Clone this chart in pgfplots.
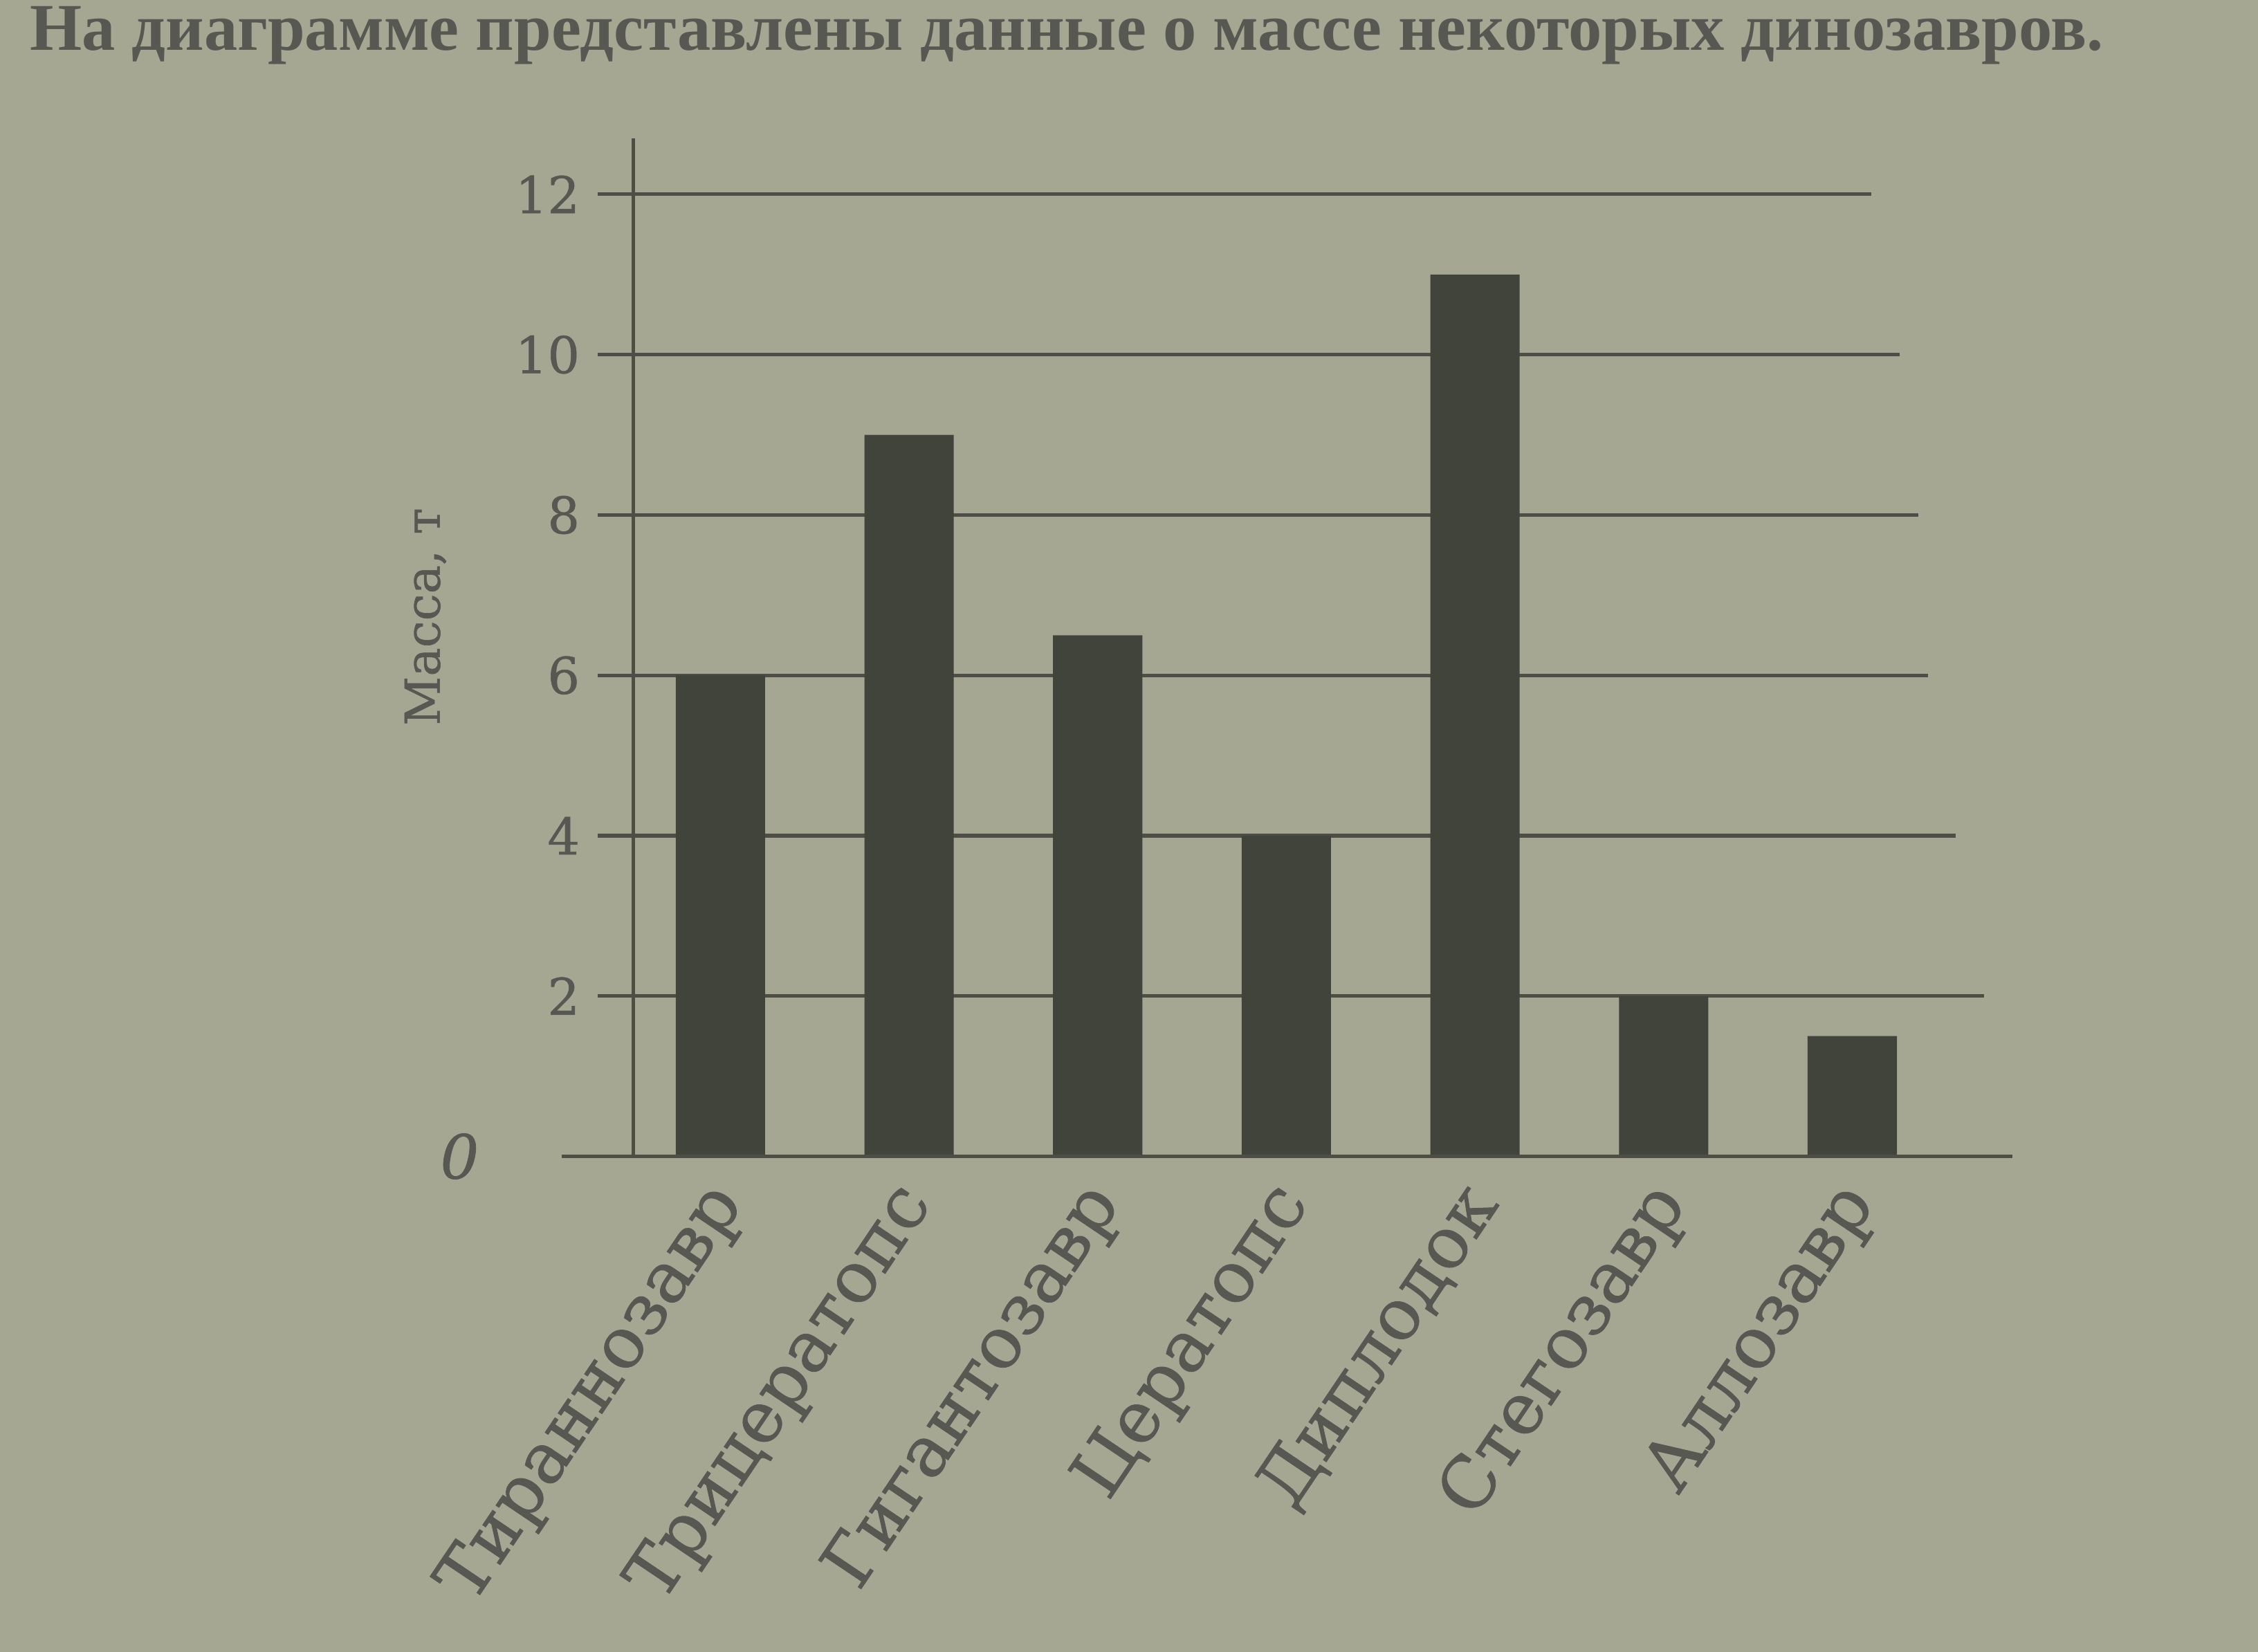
\documentclass[border=0pt]{standalone}
\usepackage{fontspec}
\setmainfont{DejaVu Serif}
\newfontfamily\titlefont{Liberation Serif}
\newfontfamily\labfont[FakeBold=0.8]{DejaVu Serif}
\usepackage{pgfplots}
\pgfplotsset{compat=1.18}
\definecolor{paper}{RGB}{166,167,147}
\definecolor{barc}{RGB}{64,68,59}
\definecolor{gridc}{RGB}{78,78,70}
\definecolor{txt}{RGB}{88,88,82}
\begin{document}
\begin{tikzpicture}[x=1mm,y=1mm]
\fill[paper] (0,0) rectangle (156.8,114.7);
\useasboundingbox (0,0) rectangle (156.8,114.7);
\node[anchor=base west, inner sep=0pt, font=\titlefont\bfseries\fontsize{13.2}{15}\selectfont, text=txt] at (2,111.2) {На диаграмме представлены данные о массе некоторых динозавров.};
\begin{axis}[
  at={(44mm,34.4mm)}, anchor=south west,
  scale only axis, width=95.1mm, height=70.7mm,
  xmin=-0.46, xmax=6.8, ymin=0, ymax=12.7,
  axis x line*=bottom, axis y line*=left,
  axis line style={gridc, line width=0.7pt},
  clip=false,
  ytick={2,4,6,8,10,12},
  tick align=outside,
  ytick style={gridc, line width=0.7pt},
  major tick length=2.5mm,
  extra y ticks={0},
  extra y tick style={ytick style={draw=none}, yticklabel style={xshift=-7mm, font=\labfont\itshape\fontsize{12}{14}\selectfont}},
  xtick=data,
  xtick style={draw=none},
  xticklabels={Тираннозавр,Трицератопс,Гигантозавр,Цератопс,Диплодок,Стегозавр,Аллозавр},
  xticklabel style={rotate=56, anchor=east, font=\labfont\fontsize{14}{16}\selectfont, text=txt, xshift=1.5mm, yshift=-0.5mm},
  yticklabel style={font=\labfont\fontsize{10}{12}\selectfont, text=txt},
  /pgf/number format/assume math mode=true,
  ylabel={Масса, т},
  ylabel style={at={(rel axis cs:-0.152,0.53)}, anchor=center, font=\labfont\fontsize{9.5}{11}\selectfont, text=txt},
]
\draw[gridc, line width=0.7pt] (axis cs:-0.46,12) -- (axis cs:6.1,12);
\draw[gridc, line width=0.7pt] (axis cs:-0.46,10) -- (axis cs:6.25,10);
\draw[gridc, line width=0.7pt] (axis cs:-0.46,8) -- (axis cs:6.35,8);
\draw[gridc, line width=0.7pt] (axis cs:-0.46,6) -- (axis cs:6.4,6);
\draw[gridc, line width=0.7pt] (axis cs:-0.46,4) -- (axis cs:6.55,4);
\draw[gridc, line width=0.7pt] (axis cs:-0.46,2) -- (axis cs:6.7,2);
\addplot[ybar, bar width=6.2mm, fill=barc, draw=none] coordinates {
  (0,6) (1,9) (2,6.5) (3,4) (4,11) (5,2) (6,1.5)
};
\draw[gridc, line width=0.8pt] (axis cs:-0.84,0) -- (axis cs:6.85,0);
\end{axis}
\end{tikzpicture}
\end{document}
